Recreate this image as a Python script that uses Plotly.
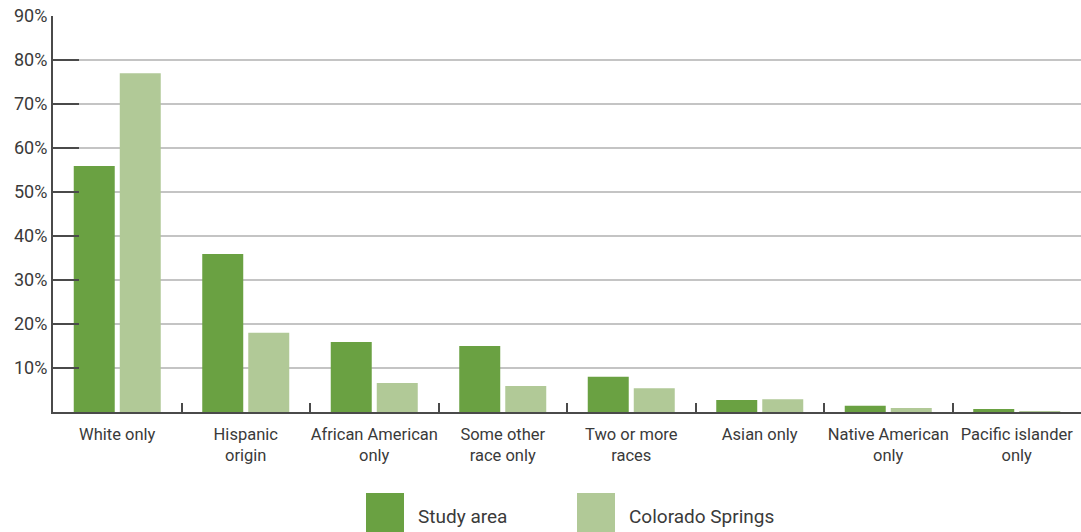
import plotly.graph_objects as go

categories = ["White only", "Hispanic<br>origin", "African American<br>only", "Some other<br>race only",
              "Two or more<br>races", "Asian only", "Native American<br>only", "Pacific islander<br>only"]
study_area = [55.9, 35.9, 15.9, 15.0, 8.0, 2.7, 1.4, 0.7]
colorado_springs = [77.0, 18.0, 6.6, 5.9, 5.4, 2.9, 0.9, 0.2]
series_names = ["Study area", "Colorado Springs"]
y_ticks = [10, 20, 30, 40, 50, 60, 70, 80, 90]
y_tick_labels = [f"{v}%" for v in y_ticks]

DARK = "#6aa142"
LIGHT = "#b1c997"
FONT = "Liberation Sans Narrow, Roboto, Arial, sans-serif"
TXT = "#3a3a3a"

fig = go.Figure()
fig.add_trace(go.Bar(x=categories, y=study_area, name=series_names[0], marker=dict(color=DARK, line=dict(width=0))))
fig.add_trace(go.Bar(x=categories, y=colorado_springs, name=series_names[1], marker=dict(color=LIGHT, line=dict(width=0))))

L, T, B, W, H = 53, 16, 120, 1081, 532
pw = W - L
ph = H - T - B

def px_x(x):
    return (x - L) / pw

def px_y(y):
    return (H - B - y) / ph

# custom legend
legend_items = [(366, series_names[0], DARK, 416), (577, series_names[1], LIGHT, 627)]
shapes = []
annotations = []
for x0, name, col, tx in legend_items:
    shapes.append(dict(type="rect", xref="paper", yref="paper",
                       x0=px_x(x0), x1=px_x(x0 + 38), y0=px_y(493), y1=px_y(532),
                       fillcolor=col, line=dict(width=0)))
    annotations.append(dict(xref="paper", yref="paper", x=px_x(tx), y=px_y(516), text=name,
                            showarrow=False, xanchor="left", yanchor="middle",
                            font=dict(family=FONT, size=19, color=TXT)))

fig.update_layout(
    width=W, height=H,
    margin=dict(l=L, r=0, t=T, b=B, autoexpand=False),
    paper_bgcolor="white", plot_bgcolor="white",
    barmode="group", bargap=0.284, bargroupgap=0.109,
    showlegend=False,
    shapes=shapes, annotations=annotations,
    font=dict(family=FONT, color=TXT),
)
fig.update_xaxes(
    type="category", showline=True, linecolor="#4a4a4a", linewidth=2,
    ticks="inside", tickson="boundaries", ticklen=9, tickwidth=2, tickcolor="#4a4a4a",
    tickfont=dict(family=FONT, size=16.5, color=TXT), showgrid=False,
    tickangle=0, automargin=False, ticklabelstandoff=6,
)
fig.update_yaxes(
    range=[0, 90], tickvals=y_ticks, ticktext=y_tick_labels,
    showline=True, linecolor="#4a4a4a", linewidth=2,
    ticks="inside", ticklen=26, tickwidth=2, tickcolor="#4a4a4a",
    showgrid=True, gridcolor="#c4c4c4", gridwidth=1.5, zeroline=False,
    tickfont=dict(family=FONT, size=18, color=TXT), automargin=False,
)

fig.write_html("out.html")
